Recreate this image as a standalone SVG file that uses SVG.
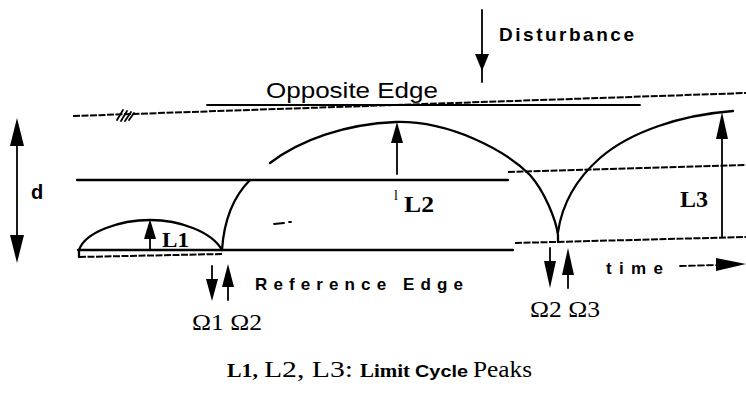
<svg xmlns="http://www.w3.org/2000/svg" width="746" height="393" viewBox="0 0 746 393">
<style>
.ln{fill:none;stroke:#000;stroke-width:2.3;stroke-linecap:round}
.th{fill:none;stroke:#000;stroke-width:1.8;stroke-linecap:round}
.ds{fill:none;stroke:#000;stroke-width:2;stroke-dasharray:7 1.5}
.hd{fill:#000;stroke:none}
.sans{font-family:"Liberation Sans",Arial,sans-serif;fill:#000}
.serif{font-family:"Liberation Serif","Times New Roman",serif;fill:#000}
</style>
<rect width="746" height="393" fill="#fff"/>
<g id="edges">
  <path class="ds" d="M73,116 L746,93"/>
  <path class="th" d="M207,105 L640,105"/>
  <path class="ln" d="M77,180 L508,180"/>
  <path class="ds" d="M508,172 L746,165"/>
  <path class="ln" d="M78,250 L513,250"/>
  <path class="ds" d="M515,243 L746,237"/>
  <path class="ds" d="M79,257 L222,254"/>
  <path class="th" d="M117,120 L123,110 M121,121 L127,111 M125,121 L131,112 M129,120 L134,113"/>
  <path class="th" d="M274,224 L284,223 M289,222 L291,222"/>
</g>
<g id="curves">
  <path class="ln" d="M79,257 L79,250 C85,232 120,220 150,220 C180,220 212,232 222,250"/>
  <path class="ln" d="M222,250 Q225,205 250,180"/>
  <path class="ln" d="M270,163 C300,140 345,124 396,122 C450,121 505,150 530,175 C545,192 556,220 558,235 L558,242"/>
  <path class="ln" d="M558,232 C562,205 575,180 600,158 C630,132 680,115 733,111"/>
</g>
<g id="connectors">
  <path class="th" d="M482,10 L482,82"/>
  <polygon class="hd" points="475,54 489,54 482,71"/>
  <path class="th" d="M17,130 L17,250"/>
  <polygon class="hd" points="17,118 24,146 10,146"/>
  <polygon class="hd" points="17,263 24,235 10,235"/>
  <path class="th" d="M150,230 L150,250"/>
  <polygon class="hd" points="150,219 156,239 144,239"/>
  <path class="th" d="M397,135 L397,174"/>
  <polygon class="hd" points="397,122 403,143 391,143"/>
  <path class="th" d="M722,125 L722,237"/>
  <polygon class="hd" points="722,112 728,139 716,139"/>
  <path class="th" d="M212,266 L212,285"/>
  <polygon class="hd" points="212,301 206,279 218,279"/>
  <path class="th" d="M228,285 L228,300"/>
  <polygon class="hd" points="228,264 234,287 222,287"/>
  <path class="th" d="M550,248 L550,265"/>
  <polygon class="hd" points="550,288 544,261 556,261"/>
  <path class="th" d="M568,270 L568,288"/>
  <polygon class="hd" points="568,248 574,275 562,275"/>
  <path class="th" d="M680,266 L717,265" stroke-dasharray="6 3"/>
  <polygon class="hd" points="746,264 716,258 716,271"/>
</g>
<g id="labels">
  <text class="sans" x="499" y="41" font-size="19" font-weight="bold" textLength="135" lengthAdjust="spacing">Disturbance</text>
  <text class="sans" x="266" y="98" font-size="22" textLength="172" lengthAdjust="spacingAndGlyphs">Opposite Edge</text>
  <text class="sans" x="31" y="199" font-size="20" font-weight="bold">d</text>
  <text class="serif" x="162" y="247" font-size="21" font-weight="bold" textLength="27" lengthAdjust="spacingAndGlyphs">L1</text>
  <text class="serif" x="394" y="200" font-size="14">l</text>
  <text class="serif" x="404" y="212" font-size="23" font-weight="bold" textLength="30" lengthAdjust="spacingAndGlyphs">L2</text>
  <text class="serif" x="680" y="207" font-size="24" font-weight="bold" textLength="28" lengthAdjust="spacingAndGlyphs">L3</text>
  <text class="sans" x="255" y="290" font-size="17" font-weight="bold" textLength="208" lengthAdjust="spacing">Reference Edge</text>
  <text class="sans" x="606" y="274" font-size="17" font-weight="bold" textLength="57" lengthAdjust="spacing">time</text>
  <text class="serif" x="192" y="330" font-size="24" textLength="70" lengthAdjust="spacingAndGlyphs">Ω1 Ω2</text>
  <text class="serif" x="530" y="317" font-size="24" textLength="70" lengthAdjust="spacingAndGlyphs">Ω2 Ω3</text>
  <text y="377"><tspan class="serif" x="227" font-size="19" font-weight="bold" textLength="31" lengthAdjust="spacingAndGlyphs">L1,</tspan><tspan class="serif" x="264" font-size="24" textLength="89" lengthAdjust="spacingAndGlyphs">L2, L3:</tspan><tspan class="serif" x="360" font-size="19" font-weight="bold" textLength="50" lengthAdjust="spacingAndGlyphs">Limit</tspan><tspan class="sans" x="415" font-size="17" font-weight="bold" textLength="53" lengthAdjust="spacingAndGlyphs">Cycle</tspan><tspan class="serif" x="473" font-size="24" textLength="59" lengthAdjust="spacingAndGlyphs">Peaks</tspan></text>
</g>
</svg>
